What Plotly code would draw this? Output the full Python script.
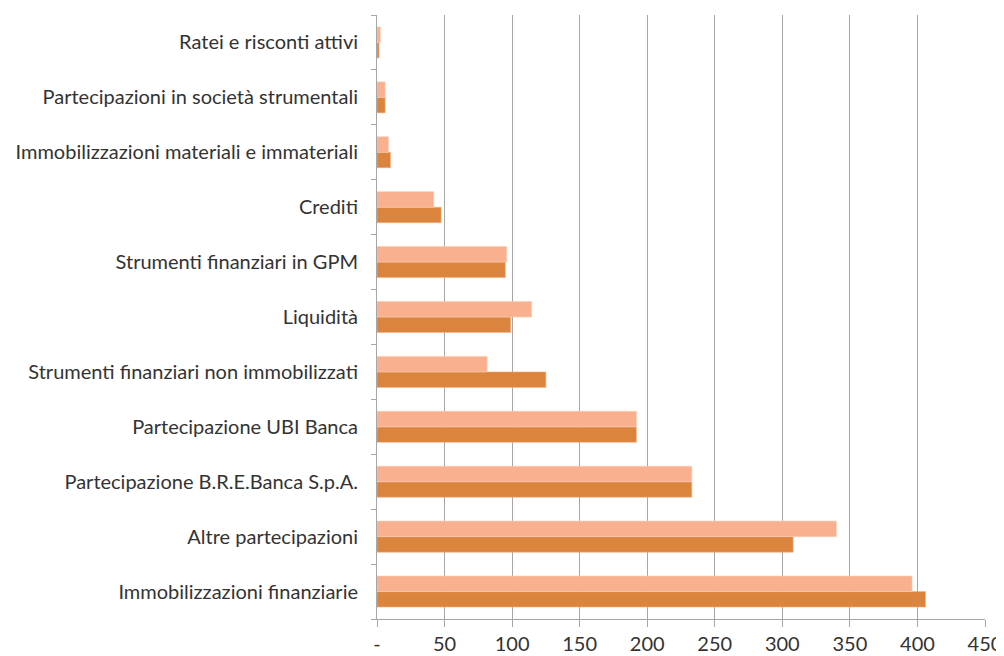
import plotly.graph_objects as go

# categorie (dal basso verso l'alto)
voci = [
    "Immobilizzazioni finanziarie",
    "Altre partecipazioni",
    "Partecipazione B.R.E.Banca S.p.A.",
    "Partecipazione UBI Banca",
    "Strumenti finanziari non immobilizzati",
    "Liquidità",
    "Strumenti finanziari in GPM",
    "Crediti",
    "Immobilizzazioni materiali e immateriali",
    "Partecipazioni in società strumentali",
    "Ratei e risconti attivi",
]

# serie scura (barra inferiore) e serie chiara (barra superiore)
serie_scura = [406, 308, 233, 192, 125, 99, 95, 47.5, 10, 6, 1.5]
serie_chiara = [396, 340, 233, 192, 81.5, 114.5, 96, 42, 8.5, 6, 2.5]

tick_vals = [0, 50, 100, 150, 200, 250, 300, 350, 400, 450]
tick_text = ["-", "50", "100", "150", "200", "250", "300", "350", "400", "450"]

fig = go.Figure()

fig.add_trace(go.Bar(y=voci, x=serie_scura, orientation="h", name="scura",
                     marker=dict(color="#DB843D", line=dict(color="#F2B48A", width=0.6))))
fig.add_trace(go.Bar(y=voci, x=serie_chiara, orientation="h", name="chiara",
                     marker=dict(color="#F8B08E", line=dict(color="#FBCDB5", width=0.6))))

# la pagina ha un margine di 8px, quindi figura un po' più piccola
fig.update_layout(
    width=996, height=648,
    margin=dict(l=369, r=19, t=7, b=37, autoexpand=False),
    barmode="group", bargap=0.435, bargroupgap=0,
    showlegend=False,
    plot_bgcolor="white", paper_bgcolor="white",
    font=dict(family="Lato, 'Open Sans', sans-serif", size=20, color="#333333"),
)

fig.update_xaxes(
    range=[0, 450], tickvals=tick_vals, ticktext=tick_text,
    showgrid=True, gridcolor="#A6A6A6", gridwidth=1,
    showline=True, linecolor="#A6A6A6", linewidth=1,
    ticks="outside", ticklen=7, tickcolor="#A6A6A6",
    zeroline=False, fixedrange=True, automargin=False,
)
fig.update_yaxes(
    type="category", categoryorder="array", categoryarray=voci,
    showgrid=False, showline=True, linecolor="#A6A6A6", linewidth=1,
    ticks="outside", ticklen=5, tickcolor="#A6A6A6", tickson="boundaries",
    ticklabelstandoff=14, fixedrange=True, automargin=False,
)

fig.write_html("out.html")
